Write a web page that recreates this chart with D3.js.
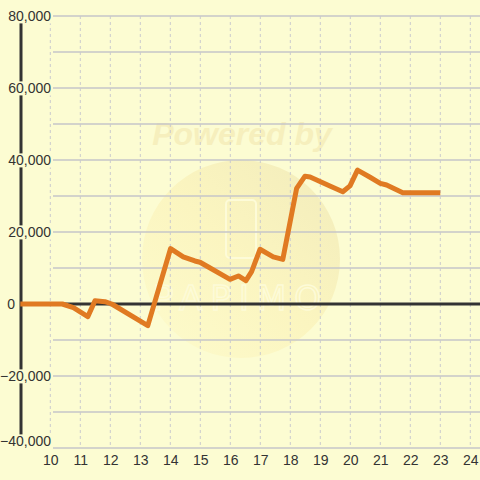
<!DOCTYPE html>
<html><head><meta charset="utf-8">
<script src="https://cdn.jsdelivr.net/npm/d3@7"></script>
<style>html,body{margin:0;padding:0;background:#fcfcd2;}svg{display:block;}</style>
</head><body>
<svg id="c" width="480" height="480"></svg>
<script>
const xValues = [9, 10.4, 10.77, 11.25, 11.49, 11.82, 12.05, 13.25, 14.01, 14.43, 14.82, 14.99, 15.21, 15.99, 16.27, 16.52, 16.71, 16.99, 17.43, 17.75, 18.21, 18.49, 18.66, 19.32, 19.75, 19.99, 20.24, 20.66, 21.0, 21.21, 21.75, 23.0];
const yValues = [0, 0, -1000, -3500, 900, 650, 0, -6000, 15400, 13100, 11950, 11600, 10550, 6850, 7780, 6480, 9000, 15200, 13100, 12400, 32100, 35500, 35300, 32800, 31200, 32800, 37200, 35200, 33500, 33050, 30900, 30900];
const xTicks = [10, 11, 12, 13, 14, 15, 16, 17, 18, 19, 20, 21, 22, 23, 24];
const yGridTicks = [-40000, -30000, -20000, -10000, 0, 10000, 20000, 30000, 40000, 50000, 60000, 70000, 80000];
const yLabelTicks = [-40000, -20000, 0, 20000, 40000, 60000, 80000];

const svg = d3.select("#c");
const W = 480, H = 480;
const x = d3.scaleLinear().domain([9, 24]).range([20.3, 470.3]);
const y = d3.scaleLinear().domain([-40000, 80000]).range([448, 16]);
const fmt = d3.format(",");

svg.append("rect").attr("width", W).attr("height", H).attr("fill", "#fcfcd2");

// watermark
const defs = svg.append("defs");
const g1 = defs.append("linearGradient").attr("id", "wm").attr("x1", "0").attr("y1", "1").attr("x2", "1").attr("y2", "0");
g1.append("stop").attr("offset", "0").attr("stop-color", "#fdfbcc");
g1.append("stop").attr("offset", "0.5").attr("stop-color", "#fbf5c0");
g1.append("stop").attr("offset", "1").attr("stop-color", "#f2ecbb");
svg.append("circle").attr("cx", 241).attr("cy", 259).attr("r", 99).attr("fill", "url(#wm)");
svg.append("rect").attr("x", 226).attr("y", 200).attr("width", 30).attr("height", 58).attr("rx", 4)
  .attr("fill", "none").attr("stroke", "#fdfbd8").attr("stroke-width", 2);
svg.append("text").attr("x", 241).attr("y", 310).attr("text-anchor", "middle")
  .attr("font-family", "DejaVu Sans, sans-serif").attr("font-size", 34).attr("letter-spacing", 8)
  .attr("fill", "none").attr("stroke", "#fdfbd8").attr("stroke-width", 1.5).text("PAPIMO");
svg.append("text").attr("x", 242).attr("y", 145).attr("text-anchor", "middle")
  .attr("font-family", "Liberation Sans, Arial, sans-serif").attr("font-weight", "bold").attr("font-style", "italic")
  .attr("font-size", 32).attr("fill", "#f6efbd").text("Powered by");

// horizontal gridlines
svg.append("g").selectAll("line").data(yGridTicks).join("line")
  .attr("x1", 53).attr("x2", W).attr("y1", d => y(d)).attr("y2", d => y(d))
  .attr("stroke", "#c6c6c8").attr("stroke-width", 1.5);

// vertical dashed gridlines
svg.append("g").selectAll("line").data(xTicks).join("line")
  .attr("x1", d => x(d)).attr("x2", d => x(d)).attr("y1", y(80000)).attr("y2", y(-40000))
  .attr("stroke", "#cacace").attr("stroke-width", 1).attr("stroke-dasharray", "3,3");

// y axis line
svg.append("line").attr("x1", 21).attr("x2", 21).attr("y1", 22).attr("y2", 436)
  .attr("stroke", "#333").attr("stroke-width", 3);

// zero line
svg.append("line").attr("x1", 20).attr("x2", W).attr("y1", y(0)).attr("y2", y(0))
  .attr("stroke", "#333").attr("stroke-width", 3);

// data line
const line = d3.line().x((d, i) => x(xValues[i])).y((d, i) => y(yValues[i]));
svg.append("path").datum(yValues).attr("d", line)
  .attr("fill", "none").attr("stroke", "#e07a22").attr("stroke-width", 5)
  .attr("stroke-linejoin", "round").attr("stroke-linecap", "butt");

// y labels via axis
const yAxis = d3.axisLeft(y).tickValues(yLabelTicks).tickFormat(d => fmt(d)).tickSize(0).tickPadding(0);
const ya = svg.append("g").attr("transform", "translate(51,0)").call(yAxis);
ya.select(".domain").remove();
ya.selectAll(".tick").each(function(d) {
  const t = d3.select(this);
  if (d === -40000) t.attr("transform", `translate(0,${y(d) - 6.5})`);
  if (d === 0) t.select("text").attr("x", -36);
});
ya.selectAll("text").attr("font-family", "Liberation Sans, Arial, sans-serif").attr("font-size", 14).attr("fill", "#333").attr("dy", "0.35em");
ya.selectAll(".tick").each(function() {
  const t = d3.select(this);
  const bb = t.select("text").node().getBBox();
  t.insert("rect", "text").attr("x", bb.x - 1).attr("y", bb.y + 1).attr("width", bb.width + 2).attr("height", bb.height - 2).attr("fill", "#fcfcd2");
});

// x labels via axis
const xAxis = d3.axisBottom(x).tickValues(xTicks).tickFormat(d => d).tickSize(0).tickPadding(0);
const xa = svg.append("g").attr("transform", "translate(0,455)").call(xAxis);
xa.select(".domain").remove();
xa.selectAll("text").attr("font-family", "Liberation Sans, Arial, sans-serif").attr("font-size", 14).attr("fill", "#333").attr("dy", "0.71em");
</script>
</body></html>
